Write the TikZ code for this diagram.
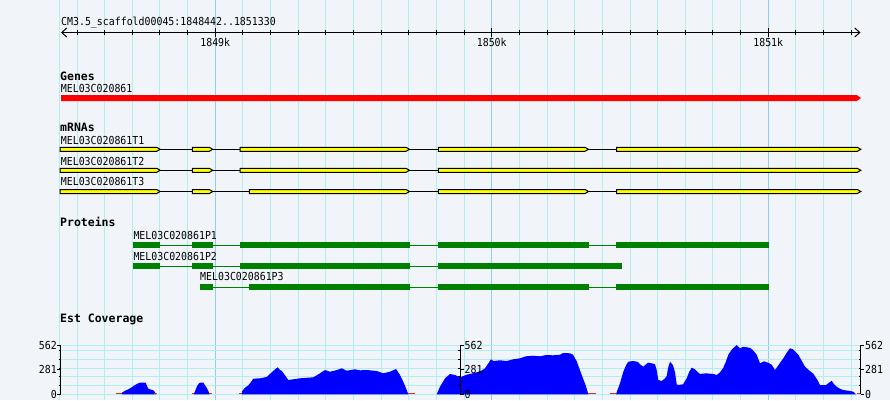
\documentclass[tikz,border=0pt]{standalone}
\usepackage{fontspec}
\usepackage{xcolor}
\usetikzlibrary{arrows.meta}
\newfontfamily\gbmono[FakeStretch=0.9]{DejaVu Sans Mono}
\newfontfamily\gbmonobold{DejaVu Sans Mono Bold}
\newcommand\gbsmall{\gbmono\fontsize{11pt}{13pt}\selectfont}
\newcommand\gbbold{\gbmonobold\fontsize{11.5pt}{13pt}\selectfont}
\definecolor{gbback}{HTML}{F1F5FA}
\definecolor{gbgrid}{HTML}{B0EEF0}
\definecolor{gbmajor}{HTML}{8ECFEF}
\definecolor{gbyellow}{HTML}{FFFF00}
\definecolor{gbgreen}{HTML}{008000}
\definecolor{gbblue}{HTML}{0000FF}
\definecolor{gbred}{HTML}{E8281C}
\begin{document}
\begin{tikzpicture}[
  x=1pt, y=-1pt,
  >={Straight Barb[length=5pt,width=9pt]},
  txt/.style={font=\gbsmall, inner sep=0pt, anchor=base west},
  trackname/.style={font=\gbbold, inner sep=0pt, anchor=base west},
  gridline/.style={draw=gbgrid, line width=1pt},
  majorline/.style={draw=gbmajor, line width=1pt},
  ink/.style={draw=black, line width=1pt},
  mrnaexon/.style={fill=gbyellow, draw=black, line width=1pt},
  cds/.style={fill=gbgreen},
  cdsline/.style={draw=gbgreen, line width=1pt},
  lowcov/.style={draw=gbred, line width=1.4pt}
]
\useasboundingbox (0,0) rectangle (890,400);
\fill[gbback] (0,0) rectangle (890,400);
\draw[gridline] (59.5,0) -- (59.5,400);
\foreach \k in {0,...,28}
  \draw[gridline] (77+\k*27.65,0) -- (77+\k*27.65,400);
\foreach \k in {5,15,25}
  \draw[majorline] (77+\k*27.65,0) -- (77+\k*27.65,400);
\foreach \k in {0,...,5}
  \draw[gridline] (60.7,394.3-\k*8.72) -- (860.7,394.3-\k*8.72);
\draw[gridline] (60.7,345.3) -- (860.7,345.3);

\node[txt] (region) at (61,25) {CM3.5\_scaffold00045:1848442..1851330};
\coordinate (rulerL) at (61,32.5);
\coordinate (rulerR) at (860.5,32.5);
\draw[ink, <->] (rulerL) -- (rulerR);
\foreach \k in {0,...,28}
  \draw[ink] (77+\k*27.65,30) -- (77+\k*27.65,35);
\foreach \k/\t in {5/1849k,15/1850k,25/1851k}{
  \draw[ink] (77+\k*27.65,28) -- (77+\k*27.65,37);
  \node[txt, anchor=base] (tick\k) at (77+\k*27.65,46) {\t};
}

\node[trackname] (genes) at (60,80) {Genes};
\node[txt] (gene) at (60.7,92.3) {MEL03C020861};
\fill[red] (61,95) -- (856.7,95) -- (861,98) -- (856.7,101) -- (61,101) -- cycle;

\node[trackname] (mrnas) at (60,131.7) {mRNAs};
\node[txt] (t1) at (60.7,144) {MEL03C020861T1};
\draw[ink] (60,149.3) -- (857,149.3);
\foreach \a/\b in {60/156.7,192.3/209.3,240/406,438.3/585,616.5/857.3}
  \draw[mrnaexon] (\a,147.3) -- (\b,147.3) -- (\b+3.5,149.3) -- (\b,151.3) -- (\a,151.3) -- cycle;
\node[txt] (t2) at (60.7,165) {MEL03C020861T2};
\draw[ink] (60,170.3) -- (857,170.3);
\foreach \a/\b in {60/156.7,192.3/209.3,240/406,438.3/857.3}
  \draw[mrnaexon] (\a,168.3) -- (\b,168.3) -- (\b+3.5,170.3) -- (\b,172.3) -- (\a,172.3) -- cycle;
\node[txt] (t3) at (60.7,185.7) {MEL03C020861T3};
\draw[ink] (60,191.5) -- (857,191.5);
\foreach \a/\b in {60/156.7,192.3/209.3,249.3/406,438.3/585,616.5/857.3}
  \draw[mrnaexon] (\a,189.5) -- (\b,189.5) -- (\b+3.5,191.5) -- (\b,193.5) -- (\a,193.5) -- cycle;

\node[trackname] (proteins) at (60,226.7) {Proteins};
\node[txt] (p1) at (133.3,239.3) {MEL03C020861P1};
\draw[cdsline] (133.3,245) -- (769,245);
\foreach \a/\b in {133.3/160,192.3/213,240/410,438/589,616/769}
  \fill[cds] (\a,242) rectangle (\b,248);
\node[txt] (p2) at (133.3,260) {MEL03C020861P2};
\draw[cdsline] (133.3,266) -- (622,266);
\foreach \a/\b in {133.3/160,192.3/213,240/410,438/622}
  \fill[cds] (\a,263) rectangle (\b,269);
\node[txt] (p3) at (200,280.7) {MEL03C020861P3};
\draw[cdsline] (200,287) -- (769,287);
\foreach \a/\b in {200/213,249.3/410,438/589,616/769}
  \fill[cds] (\a,284) rectangle (\b,290);

\node[trackname] (est) at (60,322) {Est Coverage};
\begin{scope}[shift={(0,394.3)}, y=1pt]
  \fill[gbblue] (121.7,0) -- (122,1.7) -- (125,3.6) -- (128.3,5) -- (131.7,7) -- (135,9.3) -- (138.3,11) -- (140,11.6) -- (145.7,11.6) -- (146.7,9) -- (148,6) -- (150,5) -- (153.3,4) -- (155,2) -- (156,0) -- cycle;
  \fill[gbblue] (193.5,0) -- (195,3) -- (197,8) -- (199,11) -- (200,11.6) -- (203.5,11.6) -- (205,9) -- (207,6) -- (208.5,3) -- (209.5,0) -- cycle;
  \fill[gbblue] (241.7,0) -- (242,3) -- (245,6.6) -- (248.3,9) -- (250,11) -- (253.3,15.6) -- (260,16) -- (266.7,17.3) -- (270.7,21) -- (275,25) -- (277.7,27) -- (280,24.3) -- (281.7,23.6) -- (285,19) -- (288.3,14.3) -- (293.3,15) -- (300,16) -- (313.3,17) -- (320,21) -- (325,24.3) -- (330,22.6) -- (336,24) -- (341.7,26) -- (346.7,23.6) -- (355,25) -- (360,24) -- (366.7,24.3) -- (376.7,23.3) -- (383.3,21) -- (390,22.6) -- (396,25.3) -- (400,19.3) -- (404,11) -- (406,6) -- (408.3,0) -- cycle;
  \fill[gbblue] (436.7,0) -- (438,3) -- (440,7.6) -- (445,16) -- (450,20.3) -- (455,19.3) -- (460,17) -- (466.7,19.6) -- (476.7,22) -- (482,24) -- (485,26) -- (488.3,31) -- (491,35) -- (493.3,33.3) -- (500,34) -- (506.7,33.3) -- (513,35) -- (520,36) -- (526,38) -- (533,38.6) -- (540,38) -- (546,39.3) -- (553,39) -- (560,39.6) -- (563,41.3) -- (570,41) -- (573,39.6) -- (576.7,33) -- (580,24) -- (583,16) -- (586,8) -- (588.3,0) -- cycle;
  \fill[gbblue] (616,0) -- (617,3) -- (620,11) -- (623.3,22.6) -- (626,29) -- (628.3,32.6) -- (633.3,33.3) -- (638,32.3) -- (640,30) -- (643.3,27.6) -- (646,30) -- (648,31.6) -- (651.7,31) -- (655,30) -- (656.5,25) -- (658.3,14.3) -- (661.7,13.3) -- (665,16) -- (666.7,18.3) -- (668,26) -- (670,32.6) -- (673,29) -- (675,22) -- (676.7,10) -- (678.3,9.3) -- (683,10) -- (686.7,16) -- (689,22) -- (691.7,26.6) -- (695,25) -- (698,22) -- (700,20.3) -- (706,21) -- (713.3,20.3) -- (716.7,19.3) -- (720,22) -- (723.3,26.6) -- (726,33) -- (728.3,39.6) -- (732,45) -- (736.7,49.3) -- (740,46) -- (743,47.5) -- (746.7,47) -- (750,46.5) -- (753,44) -- (756.7,39.6) -- (760,31) -- (764,33) -- (768,31.6) -- (771.7,29.6) -- (775,24.3) -- (779,30) -- (783.3,36) -- (787,42) -- (790,46) -- (793,45) -- (796,42) -- (798.3,39.6) -- (802,33) -- (805,27.6) -- (809,24) -- (813.3,20.6) -- (817,15) -- (820,9.3) -- (826,9.3) -- (831.7,13.6) -- (834,10) -- (836.7,7.6) -- (840,5.5) -- (843.3,4.3) -- (850,3.3) -- (853.3,2.6) -- (856,0) -- cycle;
  \foreach \a/\b in {116/121.7,153.5/156.7,192/194,208.5/211.7,239/241.7,408.3/415,588.3/596,610/616,856.7/860.7}
    \draw[lowcov] (\a,0.7) -- (\b,0.7);
\end{scope}

\foreach \ax in {60.7,460.3,860.7}{
  \draw[ink] (\ax,345.3) -- (\ax,394.3);
  \foreach \k in {1,...,5}
    \draw[ink] (\ax-2,394.3-\k*8.72) -- (\ax,394.3-\k*8.72);
}
\foreach \y in {345.3,369.8,394.3}{
  \draw[ink] (57.2,\y) -- (60.7,\y);
  \draw[ink] (460.3,\y) -- (463.5,\y);
  \draw[ink] (860.7,\y) -- (863.9,\y);
}
\node[txt, anchor=base east] (la) at (57,349) {562};
\node[txt, anchor=base east] (lb) at (57,373.3) {281};
\node[txt, anchor=base east] (lc) at (57,398) {0};
\node[txt] (ma) at (464.5,349) {562};
\node[txt] (mb) at (464.5,373.3) {281};
\node[txt] (mc) at (464.5,398) {0};
\node[txt] (ra) at (865,349) {562};
\node[txt] (rb) at (865,373.3) {281};
\node[txt] (rc) at (865,398) {0};
\end{tikzpicture}
\end{document}
